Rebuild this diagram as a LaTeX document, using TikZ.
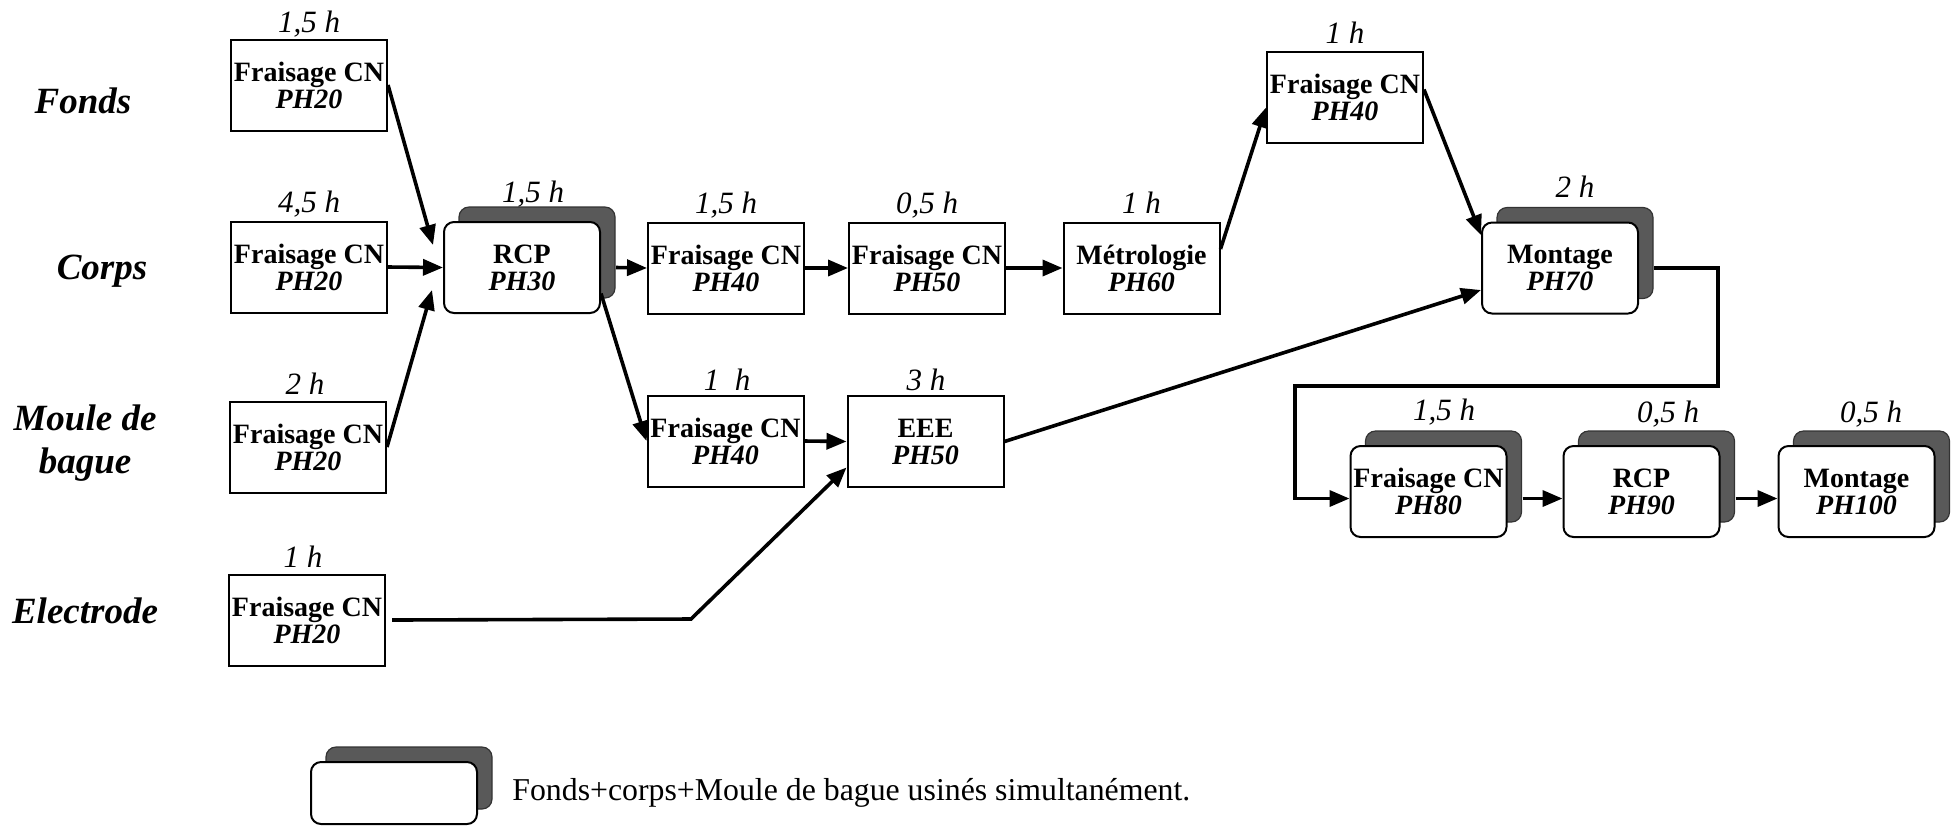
\documentclass[tikz,border=0pt]{standalone}
\usepackage{fontspec}
\setmainfont{Liberation Serif}
\usetikzlibrary{arrows.meta,shadows}
\begin{document}
\begin{tikzpicture}[x=0.5pt,y=-0.5pt,
  box/.style={draw, line width=1pt, minimum width=78pt, minimum height=45.5pt, inner sep=0pt, align=center, fill=white, font=\fontsize{14}{13.5}\selectfont\bfseries},
  rbox/.style={box, rounded corners=5pt, copy shadow={shadow xshift=7.5pt, shadow yshift=7.5pt, fill=black!65, draw=black!80, line width=0.6pt}},
  dur/.style={anchor=base, inner sep=0pt, font=\fontsize{15.5}{16}\selectfont\itshape},
  side/.style={align=center, inner sep=0pt, font=\fontsize{18.5}{21.5}\selectfont\bfseries\itshape},
  arr/.style={line width=1.8pt, -{Triangle[length=10pt,width=8pt]}}
]
\useasboundingbox (0,0) rectangle (1952,827);

% side labels
\node[side] (lfonds) at (83,101) {Fonds};
\node[side] (lcorps) at (102,271) {Corps};
\node[side] (lmoule) at (85,443) {Moule de\\bague};
\node[side] (lelec) at (85,611) {Electrode};

% left boxes
\node[box] (fonds) at (309,85) {Fraisage CN\\\textit{PH20}};
\node[box] (corps) at (309,267) {Fraisage CN\\\textit{PH20}};
\node[box] (moule) at (308,447) {Fraisage CN\\\textit{PH20}};
\node[box] (elec) at (307,620) {Fraisage CN\\\textit{PH20}};
\node[dur] (dfonds) at (309,32) {1,5 h};
\node[dur] (dcorps) at (309,212) {4,5 h};
\node[dur] (dmoule) at (305,394) {2 h};
\node[dur] (delec) at (303,567) {1 h};

% middle
\node[rbox] (rcp) at (522,267.5) {RCP\\\textit{PH30}};
\node[dur] (drcp) at (533,202) {1,5 h};
\node[box] (f40a) at (726,268) {Fraisage CN\\\textit{PH40}};
\node[dur] (df40a) at (726,213) {1,5 h};
\node[box] (f50) at (927,268) {Fraisage CN\\\textit{PH50}};
\node[dur] (df50) at (927,213) {0,5 h};
\node[box] (met) at (1141.5,268) {Métrologie\\\textit{PH60}};
\node[dur] (dmet) at (1141.5,213) {1 h};
\node[box] (f40b) at (1345,97.5) {Fraisage CN\\\textit{PH40}};
\node[dur] (df40b) at (1345,43) {1 h};
\node[rbox] (mont) at (1560,268) {Montage\\\textit{PH70}};
\node[dur] (dmont) at (1575,197) {2 h};
\node[box] (f40c) at (725.5,441) {Fraisage CN\\\textit{PH40}};
\node[dur] (df40c) at (727,390) {1\ \ h};
\node[box] (eee) at (925.5,441.5) {EEE\\\textit{PH50}};
\node[dur] (deee) at (926,390) {3 h};

% bottom right
\node[rbox] (ph80) at (1428.5,491.5) {Fraisage CN\\\textit{PH80}};
\node[dur] (dph80) at (1444,420) {1,5 h};
\node[rbox] (ph90) at (1641.5,491.5) {RCP\\\textit{PH90}};
\node[dur] (dph90) at (1668,422) {0,5 h};
\node[rbox] (ph100) at (1856.5,491.5) {Montage\\\textit{PH100}};
\node[dur] (dph100) at (1871,422) {0,5 h};

% legend
\node[rbox, minimum width=83pt, minimum height=31pt] (leg) at (394,793) {};
\node[anchor=west, inner sep=0pt, font=\fontsize{15.9}{18}\selectfont] (legt) at (512,793) {Fonds+corps+Moule de bague usinés simultanément.};

% free-end coordinates
\coordinate (inA) at (433,245);
\coordinate (inC) at (432,290);
\coordinate (elbow) at (691,619);
\coordinate (r1) at (1718,268);
\coordinate (r2) at (1718,386);
\coordinate (r3) at (1295,386);
\coordinate (r4) at (1295,498.5);

% connectors
\draw[arr] (fonds.east) -- (inA);
\draw[arr] (corps.east) -- (rcp.west);
\draw[arr] (moule.east) -- (inC);
\draw[arr] ([xshift=7.5pt]rcp.east) -- (f40a.west);
\draw[arr] ([yshift=-13pt]rcp.east) -- (f40c.west);
\draw[arr] (f40a.east) -- (f50.west);
\draw[arr] (f50.east) -- (met.west);
\draw[arr] ([yshift=9.5pt]met.east) -- ([yshift=-5pt]f40b.west);
\draw[arr] ([yshift=4pt]f40b.east) -- ([yshift=16.5pt]mont.west);
\draw[arr] (f40c.east) -- (eee.west);
\draw[arr] (eee.east) -- ([yshift=-11pt]mont.west);
\draw[arr] ([xshift=3pt]elec.east) -- (elbow) -- ([yshift=-13pt]eee.west);
\draw[arr] ([xshift=7.5pt]mont.east) -- (r1) -- (r2) -- (r3) -- (r4) -- ([yshift=-3.5pt]ph80.west);
\draw[arr] ([xshift=7.5pt,yshift=-3.5pt]ph80.east) -- ([yshift=-3.5pt]ph90.west);
\draw[arr] ([xshift=7.5pt,yshift=-3.5pt]ph90.east) -- ([yshift=-3.5pt]ph100.west);
\end{tikzpicture}
\end{document}
